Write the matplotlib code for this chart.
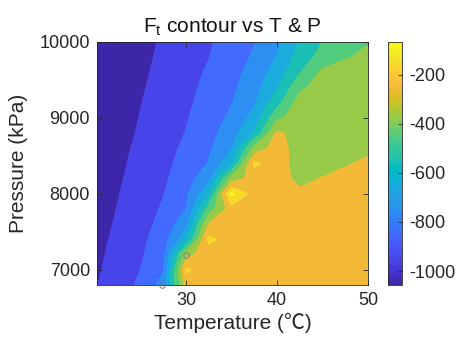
import numpy as np
import matplotlib
matplotlib.use('Agg')
import matplotlib.pyplot as plt
from matplotlib.colors import LinearSegmentedColormap, Normalize
import matplotlib.cm as cm

# ---------------- data ----------------
temperature = [20.2, 22.5, 25, 27.5, 30, 32.5, 35, 37.5, 40, 42.5, 45, 47.5, 50]
pressure = [6800, 7000, 7200, 7400, 7600, 7800, 8000, 8200, 8400,
            8600, 8800, 9000, 9200, 9400, 9600, 9800, 10000]

row_6800 = [-1002, -948, -881, -762, -250, -250, -250, -250, -250, -250, -250, -250, -250]
row_7000 = [-1012, -958, -899, -807, -185, -250, -250, -250, -250, -250, -250, -250, -250]
row_7200 = [-1020, -969, -913, -827, -333, -250, -250, -250, -250, -250, -250, -250, -250]
row_7400 = [-1028, -978, -924, -848, -633, -175, -250, -250, -250, -250, -250, -250, -250]
row_7600 = [-1035, -988, -935, -870, -733, -290, -250, -250, -250, -250, -250, -250, -250]
row_7800 = [-1043, -996, -945, -889, -798, -450, -250, -250, -250, -250, -250, -250, -250]
row_8000 = [-1050, -1004, -954, -904, -821, -612, -75, -250, -250, -279, -250, -250, -250]
row_8200 = [-1056, -1012, -963, -915, -847, -729, -360, -250, -250, -329, -295, -261, -250]
row_8400 = [-1062, -1019, -972, -925, -867, -794, -618, -180, -250, -350, -345, -311, -277]
row_8600 = [-1069, -1026, -980, -933, -882, -816, -705, -370, -250, -350, -350, -350, -327]
row_8800 = [-1076, -1035, -989, -944, -897, -833, -748, -592, -279, -350, -350, -350, -350]
row_9000 = [-1082, -1041, -996, -952, -907, -849, -780, -664, -422, -350, -350, -350, -350]
row_9200 = [-1088, -1047, -1003, -960, -917, -864, -805, -715, -536, -350, -350, -350, -350]
row_9400 = [-1093, -1053, -1010, -968, -925, -877, -819, -739, -607, -423, -350, -350, -350]
row_9600 = [-1097, -1058, -1017, -975, -933, -889, -833, -764, -656, -506, -380, -350, -350]
row_9800 = [-1100, -1063, -1023, -982, -942, -902, -847, -786, -694, -557, -461, -410, -370]
row_10000 = [-1105, -1067, -1029, -989, -949, -910, -860, -806, -719, -592, -498, -454, -409]

F_t = [row_6800, row_7000, row_7200, row_7400, row_7600, row_7800, row_8000,
       row_8200, row_8400, row_8600, row_8800, row_9000, row_9200, row_9400,
       row_9600, row_9800, row_10000]

levels = [-1200, -1000, -900, -800, -700, -600, -500, -400, -300, -200, -100, 0]
clim = (-1057, -66)
x_ticks = [30, 40, 50]
y_ticks = [7000, 8000, 9000, 10000]
cbar_ticks = [-1000, -800, -600, -400, -200]
marker_T = [30.0, 27.35]
marker_P = [7195, 6800]

# ---------------- parula colormap ----------------
parula_rgb = [
    [0.2422, 0.1504, 0.6603], [0.2504, 0.1650, 0.7076], [0.2578, 0.1818, 0.7511],
    [0.2647, 0.1978, 0.7952], [0.2706, 0.2147, 0.8364], [0.2751, 0.2342, 0.8710],
    [0.2783, 0.2559, 0.8991], [0.2803, 0.2782, 0.9221], [0.2813, 0.3006, 0.9414],
    [0.2810, 0.3228, 0.9579], [0.2795, 0.3447, 0.9717], [0.2760, 0.3667, 0.9829],
    [0.2699, 0.3892, 0.9906], [0.2602, 0.4123, 0.9952], [0.2440, 0.4358, 0.9988],
    [0.2206, 0.4603, 0.9973], [0.1963, 0.4847, 0.9892], [0.1834, 0.5074, 0.9798],
    [0.1786, 0.5289, 0.9682], [0.1764, 0.5499, 0.9520], [0.1687, 0.5703, 0.9359],
    [0.1540, 0.5902, 0.9218], [0.1460, 0.6091, 0.9079], [0.1380, 0.6276, 0.8973],
    [0.1248, 0.6459, 0.8883], [0.1113, 0.6635, 0.8763], [0.0952, 0.6798, 0.8598],
    [0.0689, 0.6948, 0.8394], [0.0297, 0.7082, 0.8163], [0.0036, 0.7203, 0.7917],
    [0.0067, 0.7312, 0.7660], [0.0433, 0.7411, 0.7394], [0.0964, 0.7500, 0.7120],
    [0.1408, 0.7584, 0.6842], [0.1717, 0.7670, 0.6554], [0.1938, 0.7758, 0.6251],
    [0.2161, 0.7843, 0.5923], [0.2470, 0.7918, 0.5567], [0.2906, 0.7973, 0.5188],
    [0.3406, 0.8008, 0.4789], [0.3909, 0.8029, 0.4354], [0.4456, 0.8024, 0.3909],
    [0.5044, 0.7993, 0.3480], [0.5616, 0.7942, 0.3045], [0.6174, 0.7876, 0.2612],
    [0.6720, 0.7793, 0.2227], [0.7242, 0.7698, 0.1910], [0.7738, 0.7598, 0.1646],
    [0.8203, 0.7498, 0.1535], [0.8634, 0.7406, 0.1596], [0.9035, 0.7330, 0.1774],
    [0.9393, 0.7288, 0.2100], [0.9728, 0.7298, 0.2394], [0.9956, 0.7434, 0.2371],
    [0.9970, 0.7659, 0.2199], [0.9952, 0.7893, 0.2028], [0.9892, 0.8136, 0.1885],
    [0.9786, 0.8386, 0.1766], [0.9676, 0.8639, 0.1643], [0.9610, 0.8890, 0.1537],
    [0.9597, 0.9135, 0.1423], [0.9628, 0.9373, 0.1265], [0.9691, 0.9606, 0.1064],
    [0.9769, 0.9839, 0.0805]]
parula = LinearSegmentedColormap.from_list('parula', parula_rgb, N=256)
# colormap position used for each filled band (lowest band first)
band_pos = [0.0, 0.108, 0.209, 0.31, 0.41, 0.511, 0.612, 0.69, 0.814, 0.915, 1.0]
band_colors = [parula(p) for p in band_pos]

plt.rcParams['font.family'] = ['Liberation Sans', 'DejaVu Sans']
plt.rcParams['axes.unicode_minus'] = False
text_col = '#262626'

fig = plt.figure(figsize=(4.59, 3.49), dpi=100)
ax = fig.add_axes([0.2113, 0.1834, 0.5904, 0.6963])
norm = Normalize(vmin=clim[0], vmax=clim[1])

ax.contourf(temperature, pressure, np.array(F_t, dtype=float), levels=levels,
            colors=band_colors)
ax.plot(marker_T, marker_P, 'o', mfc='none', mec='#6f7f8f', ms=4, mew=0.7,
        clip_on=False, zorder=5)

ax.set_xlim(temperature[0], temperature[-1])
ax.set_ylim(pressure[0], pressure[-1])
ax.set_xticks(x_ticks)
ax.set_yticks(y_ticks)
ax.tick_params(direction='in', length=3.5, width=0.6, top=True, right=True,
               labelsize=13, colors=text_col, pad=5)
for sp in ax.spines.values():
    sp.set_color(text_col)
    sp.set_linewidth(0.6)

ax.set_title(r'$\mathregular{F_t}$ contour vs T & P', fontsize=15, color='#111111', pad=7)
ax.set_xlabel('Temperature (℃)', fontsize=15, color=text_col,
              family=['Liberation Sans', 'Noto Sans CJK SC', 'DejaVu Sans'], labelpad=3)
ax.set_ylabel('Pressure (kPa)', fontsize=15, color=text_col, labelpad=8)

cax = fig.add_axes([0.8453, 0.1834, 0.0305, 0.6963])
sm = cm.ScalarMappable(norm=norm, cmap=parula)
cb = fig.colorbar(sm, cax=cax, ticks=cbar_ticks)
cb.ax.tick_params(direction='in', length=3, width=0.6, labelsize=13, colors=text_col, pad=5)
cb.outline.set_linewidth(0.6)
cb.outline.set_edgecolor(text_col)

fig.savefig('out.png', dpi=100)
